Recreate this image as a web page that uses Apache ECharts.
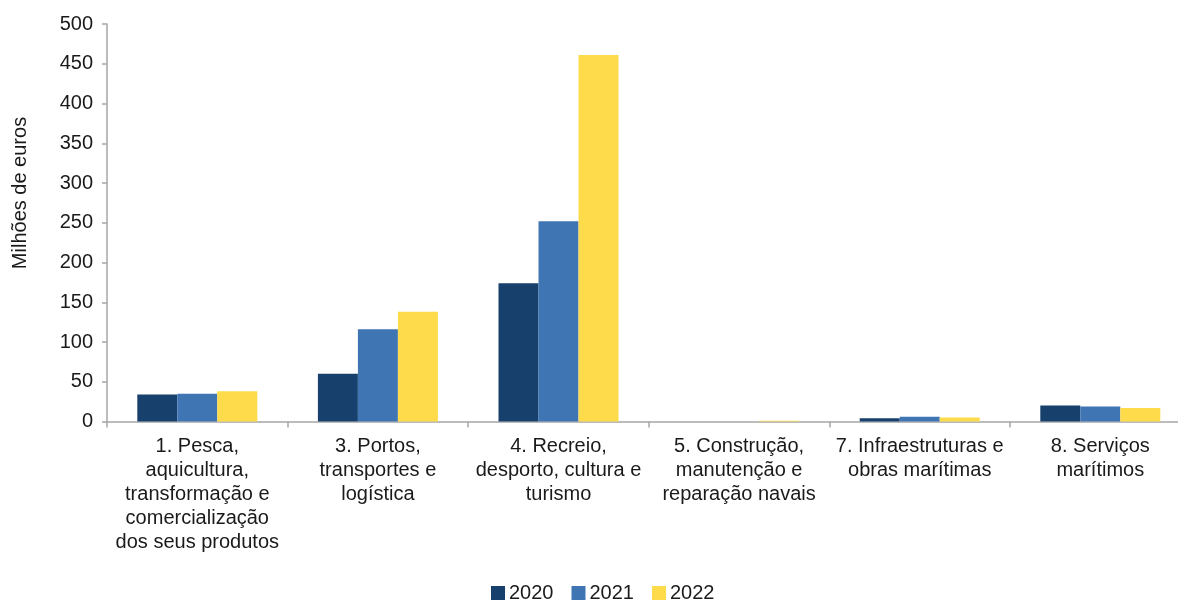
<!DOCTYPE html>
<html>
<head>
<meta charset="utf-8">
<script src="https://cdn.jsdelivr.net/npm/echarts@6/dist/echarts.min.js"></script>
<style>
  html, body { margin: 0; padding: 0; background: #ffffff; }
  #chart { width: 1178px; height: 601px; }
</style>
</head>
<body>
<div id="chart"></div>
<script>
// Sector categories (labels are wrapped by hand)
const categories = [
  '1. Pesca,\naquicultura,\ntransformação e\ncomercialização\ndos seus produtos',
  '3. Portos,\ntransportes e\nlogística',
  '4. Recreio,\ndesporto, cultura e\nturismo',
  '5. Construção,\nmanutenção e\nreparação navais',
  '7. Infraestruturas e\nobras marítimas',
  '8. Serviços\nmarítimos'
];

// Values in millions of euros
const values2020 = [34, 60, 174, 0, 4, 20];
const values2021 = [35, 116, 252, 0, 6, 19];
const values2022 = [38, 138, 461, 1, 5, 17];

const seriesNames = ['2020', '2021', '2022'];
const seriesColors = ['#17406d', '#4075b4', '#fddb4a'];

const yTicks = { min: 0, max: 500, interval: 50 };

const font = 'Liberation Sans, Arial, sans-serif';
const axisGray = '#a6a6a6';

const chart = echarts.init(document.getElementById('chart'), null, { renderer: 'canvas' });

const seriesData = [values2020, values2021, values2022];

chart.setOption({
  animation: false,
  backgroundColor: '#ffffff',
  textStyle: { fontFamily: font },
  // plot area runs slightly past the right edge of the canvas
  grid: {
    left: 107, width: 1083.6, top: 24, bottom: 179.5,
    containLabel: false,
    outerBoundsMode: 'none'
  },
  legend: {
    data: seriesNames,
    left: 491,
    top: 583,
    padding: 0,
    itemWidth: 14,
    itemHeight: 14,
    itemGap: 18,
    icon: 'rect',
    textStyle: { fontFamily: font, fontSize: 20, color: '#1a1a1a', padding: [0, 0, 0, -1] }
  },
  graphic: [{
    type: 'text',
    x: 20,
    y: 193,
    rotation: Math.PI / 2,
    style: {
      text: 'Milhões de euros',
      font: '20px ' + font,
      fill: '#1a1a1a',
      textAlign: 'center',
      textVerticalAlign: 'middle'
    }
  }],
  xAxis: {
    type: 'category',
    data: categories,
    boundaryGap: true,
    axisLine: { show: true, lineStyle: { color: axisGray, width: 1.5 } },
    axisTick: { show: true, length: 6, alignWithLabel: false, lineStyle: { color: axisGray, width: 1.5 } },
    axisLabel: {
      interval: 0,
      margin: 13,
      fontSize: 20,
      lineHeight: 24,
      color: '#1a1a1a',
      fontFamily: font,
      align: 'center'
    },
    splitLine: { show: false }
  },
  yAxis: {
    type: 'value',
    min: yTicks.min,
    max: yTicks.max,
    interval: yTicks.interval,
    axisLine: { show: true, lineStyle: { color: axisGray, width: 1.5 } },
    axisTick: { show: true, length: 5, lineStyle: { color: axisGray, width: 1.5 } },
    axisLabel: { fontSize: 20, color: '#1a1a1a', fontFamily: font, margin: 14 },
    splitLine: { show: false }
  },
  series: seriesNames.map((name, i) => ({
    name: name,
    type: 'bar',
    data: seriesData[i],
    barWidth: 40,
    barGap: '0%',
    itemStyle: { color: seriesColors[i] }
  }))
});
</script>
</body>
</html>
